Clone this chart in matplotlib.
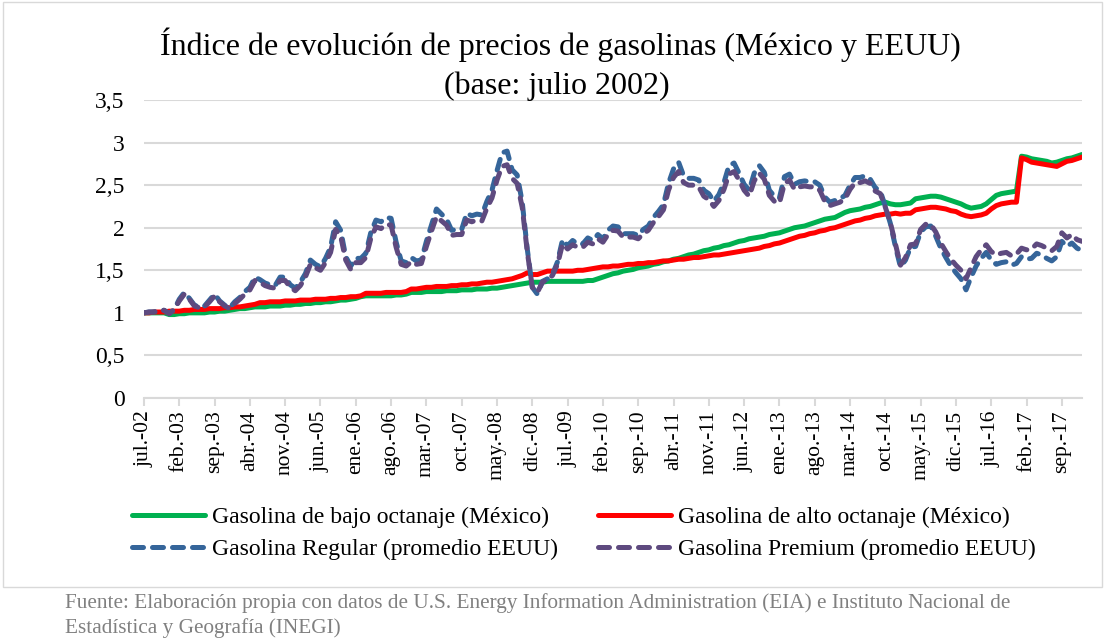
import matplotlib
matplotlib.use("Agg")
import matplotlib.pyplot as plt
from matplotlib.patches import Rectangle

plt.rcParams['font.family'] = ['Liberation Serif', 'DejaVu Serif']

# --------------------------
# DATA (indice, base jul-2002 = 1), mensual jul-02 ... ene-18
# --------------------------
bajo_octanaje = [
    1.00, 1.00, 1.00, 1.00, 1.00, 0.98,                                        # 2002
    0.98, 0.99, 0.99, 1.00, 1.00, 1.00, 1.00, 1.01, 1.01, 1.02, 1.02, 1.03,    # 2003
    1.04, 1.05, 1.05, 1.06, 1.07, 1.07, 1.07, 1.08, 1.08, 1.08, 1.09, 1.09,    # 2004
    1.10, 1.10, 1.11, 1.11, 1.12, 1.12, 1.13, 1.13, 1.14, 1.15, 1.15, 1.16,    # 2005
    1.17, 1.19, 1.20, 1.20, 1.20, 1.20, 1.20, 1.20, 1.21, 1.21, 1.22, 1.24,    # 2006
    1.24, 1.24, 1.25, 1.25, 1.25, 1.25, 1.26, 1.26, 1.26, 1.27, 1.27, 1.27,    # 2007
    1.28, 1.28, 1.28, 1.29, 1.29, 1.30, 1.31, 1.32, 1.33, 1.34, 1.35, 1.36,    # 2008
    1.36, 1.36, 1.37, 1.37, 1.37, 1.37, 1.37, 1.37, 1.37, 1.37, 1.38, 1.38,    # 2009
    1.40, 1.42, 1.44, 1.46, 1.47, 1.49, 1.50, 1.51, 1.53, 1.54, 1.55, 1.57,    # 2010
    1.58, 1.60, 1.61, 1.63, 1.64, 1.66, 1.68, 1.69, 1.71, 1.73, 1.74, 1.76,    # 2011
    1.77, 1.79, 1.80, 1.82, 1.84, 1.85, 1.87, 1.88, 1.89, 1.90, 1.92, 1.93,    # 2012
    1.94, 1.96, 1.98, 2.00, 2.01, 2.02, 2.04, 2.06, 2.08, 2.10, 2.11, 2.12,    # 2013
    2.15, 2.18, 2.20, 2.21, 2.22, 2.24, 2.25, 2.27, 2.29, 2.30, 2.28, 2.27,    # 2014
    2.27, 2.28, 2.29, 2.34, 2.35, 2.36, 2.37, 2.37, 2.36, 2.34, 2.32, 2.30,    # 2015
    2.28, 2.25, 2.23, 2.24, 2.25, 2.28, 2.33, 2.38, 2.40, 2.41, 2.42, 2.43,    # 2016
    2.84, 2.83, 2.81, 2.80, 2.79, 2.78, 2.76, 2.77, 2.79, 2.81, 2.82, 2.84,    # 2017
    2.86,                                                                      # 2018
]

alto_octanaje = [
    1.00, 1.00, 1.01, 1.01, 1.01, 1.02,
    1.02, 1.02, 1.03, 1.03, 1.04, 1.04, 1.04, 1.05, 1.05, 1.05, 1.06, 1.06,
    1.07, 1.07, 1.08, 1.09, 1.10, 1.12, 1.12, 1.13, 1.13, 1.13, 1.14, 1.14,
    1.14, 1.15, 1.15, 1.15, 1.16, 1.16, 1.16, 1.17, 1.17, 1.18, 1.18, 1.19,
    1.19, 1.20, 1.23, 1.23, 1.23, 1.23, 1.24, 1.24, 1.24, 1.24, 1.25, 1.28,
    1.28, 1.29, 1.30, 1.30, 1.31, 1.31, 1.31, 1.32, 1.32, 1.33, 1.33, 1.34,
    1.34, 1.35, 1.36, 1.36, 1.37, 1.38, 1.39, 1.40, 1.42, 1.44, 1.47, 1.45,
    1.45, 1.47, 1.49, 1.49, 1.49, 1.49, 1.49, 1.49, 1.50, 1.50, 1.51, 1.52,
    1.53, 1.54, 1.54, 1.55, 1.55, 1.56, 1.57, 1.57, 1.58, 1.58, 1.59, 1.59,
    1.60, 1.61, 1.61, 1.62, 1.63, 1.63, 1.64, 1.65, 1.65, 1.66, 1.67, 1.68,
    1.68, 1.69, 1.70, 1.71, 1.72, 1.73, 1.74, 1.75, 1.76, 1.78, 1.79, 1.81,
    1.82, 1.84, 1.86, 1.88, 1.90, 1.91, 1.93, 1.94, 1.96, 1.97, 1.99, 2.00,
    2.02, 2.04, 2.06, 2.08, 2.09, 2.11, 2.12, 2.14, 2.15, 2.16, 2.16, 2.17,
    2.16, 2.17, 2.17, 2.21, 2.22, 2.23, 2.24, 2.24, 2.23, 2.22, 2.20, 2.19,
    2.16, 2.14, 2.13, 2.14, 2.15, 2.17, 2.22, 2.26, 2.28, 2.29, 2.30, 2.30,
    2.82, 2.80, 2.77, 2.76, 2.75, 2.74, 2.73, 2.72, 2.75, 2.78, 2.79, 2.81,
    2.83,
]

regular_eeuu = [
    1.00, 1.01, 1.01, 1.03, 1.03, 0.99,
    1.04, 1.16, 1.24, 1.17, 1.09, 1.07, 1.08, 1.15, 1.22, 1.14, 1.09, 1.06,
    1.13, 1.18, 1.25, 1.30, 1.42, 1.39, 1.35, 1.33, 1.32, 1.42, 1.42, 1.33,
    1.29, 1.36, 1.46, 1.62, 1.57, 1.54, 1.64, 1.77, 2.07, 1.97, 1.66, 1.55,
    1.64, 1.64, 1.70, 1.95, 2.09, 2.07, 2.12, 2.11, 1.83, 1.61, 1.59, 1.65,
    1.61, 1.62, 1.84, 2.03, 2.22, 2.16, 2.10, 1.97, 1.98, 1.98, 2.17, 2.14,
    2.16, 2.15, 2.31, 2.44, 2.67, 2.88, 2.90, 2.68, 2.62, 2.30, 1.75, 1.30,
    1.22, 1.37, 1.40, 1.45, 1.60, 1.86, 1.79, 1.85, 1.81, 1.81, 1.88, 1.85,
    1.92, 1.87, 1.97, 2.02, 2.01, 1.93, 1.93, 1.93, 1.91, 1.98, 2.02, 2.12,
    2.19, 2.27, 2.52, 2.69, 2.77, 2.61, 2.58, 2.58, 2.56, 2.44, 2.40, 2.31,
    2.39, 2.53, 2.73, 2.76, 2.64, 2.51, 2.44, 2.64, 2.73, 2.65, 2.44, 2.37,
    2.35, 2.60, 2.63, 2.51, 2.54, 2.55, 2.54, 2.54, 2.50, 2.36, 2.30, 2.32,
    2.34, 2.38, 2.50, 2.59, 2.59, 2.61, 2.57, 2.47, 2.43, 2.25, 2.05, 1.78,
    1.54, 1.62, 1.77, 1.78, 1.95, 2.01, 2.02, 1.90, 1.76, 1.65, 1.55, 1.47,
    1.40, 1.27, 1.42, 1.55, 1.64, 1.71, 1.62, 1.57, 1.59, 1.60, 1.56, 1.58,
    1.66, 1.63, 1.64, 1.70, 1.68, 1.64, 1.61, 1.66, 1.84, 1.78, 1.82, 1.76,
    1.73,
]

premium_eeuu = [
    1.00, 1.01, 1.01, 1.03, 1.03, 0.99,
    1.04, 1.14, 1.22, 1.16, 1.08, 1.06, 1.07, 1.13, 1.20, 1.13, 1.08, 1.05,
    1.11, 1.16, 1.22, 1.27, 1.38, 1.36, 1.32, 1.30, 1.29, 1.38, 1.38, 1.30,
    1.26, 1.32, 1.42, 1.57, 1.53, 1.50, 1.59, 1.71, 1.98, 1.90, 1.62, 1.51,
    1.59, 1.59, 1.65, 1.88, 2.01, 1.99, 2.04, 2.03, 1.77, 1.57, 1.55, 1.60,
    1.57, 1.58, 1.78, 1.96, 2.13, 2.08, 2.03, 1.91, 1.92, 1.92, 2.09, 2.07,
    2.09, 2.08, 2.23, 2.35, 2.56, 2.72, 2.74, 2.58, 2.52, 2.24, 1.72, 1.30,
    1.24, 1.36, 1.39, 1.44, 1.57, 1.81, 1.75, 1.80, 1.77, 1.77, 1.83, 1.81,
    1.87, 1.83, 1.92, 1.97, 1.96, 1.89, 1.89, 1.89, 1.87, 1.93, 1.97, 2.06,
    2.13, 2.21, 2.44, 2.59, 2.66, 2.53, 2.50, 2.50, 2.48, 2.37, 2.33, 2.25,
    2.32, 2.45, 2.63, 2.66, 2.56, 2.44, 2.37, 2.55, 2.64, 2.57, 2.38, 2.31,
    2.29, 2.52, 2.56, 2.45, 2.48, 2.49, 2.48, 2.48, 2.44, 2.31, 2.26, 2.28,
    2.30, 2.34, 2.45, 2.53, 2.53, 2.55, 2.52, 2.43, 2.40, 2.24, 2.06, 1.81,
    1.56, 1.65, 1.80, 1.81, 1.98, 2.04, 2.04, 1.95, 1.82, 1.72, 1.63, 1.56,
    1.50, 1.40, 1.53, 1.66, 1.74, 1.80, 1.72, 1.68, 1.70, 1.71, 1.67, 1.69,
    1.76, 1.74, 1.75, 1.81, 1.79, 1.76, 1.73, 1.78, 1.94, 1.88, 1.92, 1.86,
    1.84,
]

tick_labels = ['jul.-02', 'feb.-03', 'sep.-03', 'abr.-04', 'nov.-04', 'jun.-05',
               'ene.-06', 'ago.-06', 'mar.-07', 'oct.-07', 'may.-08', 'dic.-08',
               'jul.-09', 'feb.-10', 'sep.-10', 'abr.-11', 'nov.-11', 'jun.-12',
               'ene.-13', 'ago.-13', 'mar.-14', 'oct.-14', 'may.-15', 'dic.-15',
               'jul.-16', 'feb.-17', 'sep.-17']

y_ticks = [0, 0.5, 1, 1.5, 2, 2.5, 3, 3.5]
y_labels = ['0', '0,5', '1', '1,5', '2', '2,5', '3', '3,5']

# --------------------------
# PLOT
# --------------------------
fig = plt.figure(figsize=(11.05, 6.44), dpi=100)
ax = fig.add_axes([0.1303, 0.382, 0.8489, 0.4627])

months = range(len(bajo_octanaje))
lw = 3.6
ax.plot(months, bajo_octanaje, color='#00B050', lw=lw, solid_capstyle='round',
        label='Gasolina de bajo octanaje (México)', zorder=3)
ax.plot(months, alto_octanaje, color='#FF0000', lw=lw, solid_capstyle='round',
        label='Gasolina de alto octanaje (México)', zorder=4)
ax.plot(months, regular_eeuu, color='#35659A', lw=lw, dashes=(2.2, 1.8),
        dash_capstyle='round', label='Gasolina Regular (promedio EEUU)', zorder=5)
ax.plot(months, premium_eeuu, color='#5E4A7F', lw=lw, dashes=(2.2, 1.8),
        dash_capstyle='round', label='Gasolina Premium (promedio EEUU)', zorder=6)

ax.set_xlim(0, len(bajo_octanaje) - 1)
ax.set_ylim(0, 3.5)
ax.set_xticks(range(0, len(bajo_octanaje), 7))
ax.set_xticklabels(tick_labels, rotation=90, fontsize=15.5)
ax.set_yticks(y_ticks)
ax.set_yticklabels(y_labels, fontsize=17)

ax.grid(axis='y', color='#D9D9D9', lw=1.5)
ax.set_axisbelow(True)
for s in ['left', 'right', 'top']:
    ax.spines[s].set_visible(False)
ax.spines['bottom'].set_color('#D9D9D9')
ax.spines['bottom'].set_linewidth(1.5)
ax.tick_params(axis='x', color='#D9D9D9', length=6, width=1.5, pad=3)
ax.tick_params(axis='y', length=0, pad=14)

fig.text(0.507, 0.93, 'Índice de evolución de precios de gasolinas (México y EEUU)',
         ha='center', va='center', fontsize=23)
fig.text(0.504, 0.866, '(base: julio 2002)', ha='center', va='center', fontsize=23)

h, l = ax.get_legend_handles_labels()
order = [0, 2, 1, 3]
fig.legend([h[i] for i in order], [l[i] for i in order], ncol=2,
           loc='center', bbox_to_anchor=(0.5285, 0.172), frameon=False,
           fontsize=17, handlelength=3.1, handletextpad=0.3,
           columnspacing=1.7, labelspacing=0.45)

# borde del area del grafico
fig.add_artist(Rectangle((0.003, 0.088), 0.994, 0.909, transform=fig.transFigure,
                         fill=False, edgecolor='#D9D9D9', lw=1))

fig.text(0.059, 0.063, 'Fuente: Elaboración propia con datos de U.S. Energy Information '
         'Administration (EIA) e Instituto Nacional de', fontsize=15.3,
         color='#808080', va='center')
fig.text(0.059, 0.025, 'Estadística y Geografía (INEGI)', fontsize=15.3,
         color='#808080', va='center')

fig.savefig('out.png', dpi=100)
